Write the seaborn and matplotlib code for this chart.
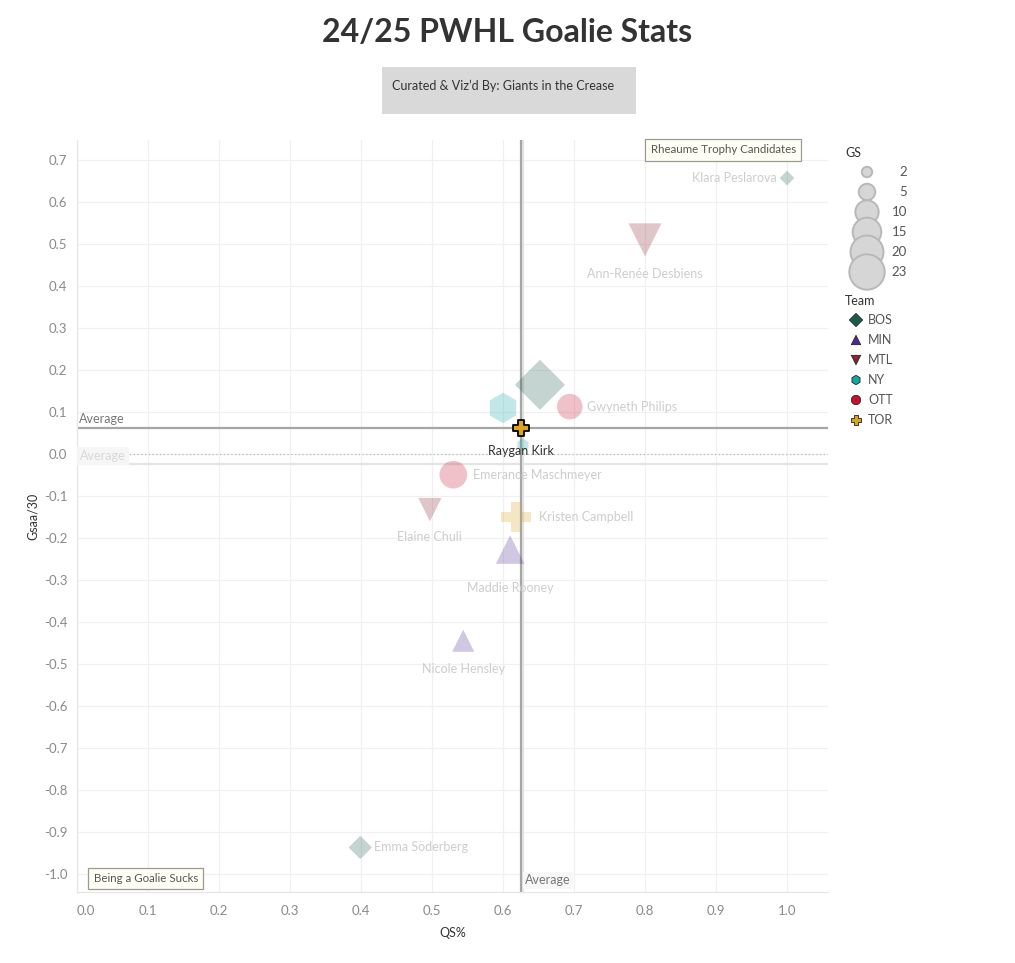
import matplotlib
matplotlib.use("Agg")
import matplotlib.pyplot as plt
from matplotlib.patches import Rectangle
import seaborn as sns
import pandas as pd

# values
players = ["Aerin Frankel", "Emma Söderberg", "Klara Peslarova", "Nicole Hensley",
           "Maddie Rooney", "Ann-Renée Desbiens", "Elaine Chuli", "Corinne Schroeder",
           "Abbey Levy", "Gwyneth Philips", "Emerance Maschmeyer", "Kristen Campbell",
           "Raygan Kirk"]
teams = ["BOS", "BOS", "BOS", "MIN", "MIN", "MTL", "MTL", "NY", "NY", "OTT", "OTT",
         "TOR", "TOR"]
qs_pct = [0.652, 0.399, 1.000, 0.544, 0.610, 0.800, 0.497, 0.600, 0.628, 0.694,
          0.530, 0.618, 0.625]
gsaa_30 = [0.165, -0.936, 0.657, -0.444, -0.227, 0.510, -0.132, 0.110, 0.022, 0.113,
           -0.049, -0.149, 0.063]
games_started = [23, 5, 2, 9, 15, 20, 10, 17, 3, 12, 14, 16, 5]

team_order = ["BOS", "MIN", "MTL", "NY", "OTT", "TOR"]
gs_levels = [2, 5, 10, 15, 20, 23]

avg_qs = 0.625
avg_gsaa = 0.063
avg_qs_faded = 0.628
avg_gsaa_faded = -0.023
highlight = "Raygan Kirk"

team_colors = {"BOS": "#1d5c4c", "MIN": "#4b2d8f", "MTL": "#8a2432",
               "NY": "#12a5a8", "OTT": "#c8102e", "TOR": "#d9a520"}
team_markers = {"BOS": "D", "MIN": "^", "MTL": "v", "NY": "h", "OTT": "o", "TOR": "P"}

# label placement: offset in pixels from the mark, and alignment
label_pos = {
    "Klara Peslarova": (-10, 0, "right"),
    "Ann-Renée Desbiens": (0, -34, "center"),
    "Gwyneth Philips": (17, 0, "left"),
    "Raygan Kirk": (0, -23, "center"),
    "Emerance Maschmeyer": (20, 0, "left"),
    "Elaine Chuli": (0, -27, "center"),
    "Kristen Campbell": (23, 0, "left"),
    "Maddie Rooney": (0, -38, "center"),
    "Nicole Hensley": (0, -28, "center"),
    "Emma Söderberg": (14, 0, "left"),
}

df = pd.DataFrame({"Player": players, "Team": teams, "QS%": qs_pct,
                   "Gsaa/30": gsaa_30, "GS": games_started})

W, H = 1015, 963
PX = 0.72  # points per pixel at dpi 100
size_range = (0, 650)   # area grows from zero, like the Tableau size legend
size_norm = (0, 23)

sns.set_theme(style="white")
plt.rcParams["font.family"] = ["Lato", "DejaVu Sans"]

fig = plt.figure(figsize=(W / 100, H / 100), dpi=100)
ax = fig.add_axes([77 / W, 71 / H, (828 - 77) / W, (892 - 140) / H])

# reference lines (faded set first, then the highlighted one)
ax.axhline(0, color="#bbbbbb", lw=0.9, ls=(0, (1, 2)), zorder=1)
ax.axhline(avg_gsaa_faded, color="#e4e4e4", lw=1.6, zorder=1)
ax.axvline(avg_qs_faded, color="#e4e4e4", lw=1.6, zorder=1)
ax.axhline(avg_gsaa, color="#a6a6a6", lw=1.6, zorder=2)
ax.axvline(avg_qs, color="#a6a6a6", lw=1.6, zorder=2)

faded = df[df["Player"] != highlight]
sns.scatterplot(data=faded, x="QS%", y="Gsaa/30", hue="Team", style="Team",
                size="GS", sizes=size_range, size_norm=size_norm,
                palette=team_colors, markers=team_markers, hue_order=team_order,
                alpha=0.26, linewidth=0, legend=False, ax=ax, zorder=3)
sel = df[df["Player"] == highlight]
sns.scatterplot(data=sel, x="QS%", y="Gsaa/30", hue="Team", style="Team",
                size="GS", sizes=size_range, size_norm=size_norm,
                palette=team_colors, markers=team_markers,
                alpha=1, edgecolor="black", linewidth=1.3, legend=False, ax=ax, zorder=5)

for _, row in df.iterrows():
    if row["Player"] not in label_pos:
        continue
    dx, dy, ha = label_pos[row["Player"]]
    is_hl = row["Player"] == highlight
    ax.annotate(row["Player"], (row["QS%"], row["Gsaa/30"]),
                xytext=(dx * PX, dy * PX), textcoords="offset points",
                ha=ha, va="center", fontsize=9,
                color="#333333" if is_hl else "#cdcdcd", zorder=6 if is_hl else 4)

# average labels
ax.annotate("Average", (0.003, avg_gsaa), xytext=(0, 2), textcoords="offset points",
            ha="left", va="bottom", fontsize=9, color="#777777", zorder=6)
ax.text(0.004, -0.004, "Average", ha="left", va="center", fontsize=9, color="#d8d8d8",
        bbox=dict(boxstyle="square,pad=0.25", fc="#f6f6f6", ec="none"), zorder=4)
ax.text(0.631, -1.0143, "Average", ha="left", va="center", fontsize=9, color="#777777",
        bbox=dict(boxstyle="square,pad=0.2", fc="#f7f7f7", ec="none"), zorder=6)

# annotation boxes
ax.text(0.91, 0.724, "Rheaume Trophy Candidates", ha="center", va="center",
        fontsize=8.3, color="#555555", clip_on=False, zorder=7,
        bbox=dict(boxstyle="square,pad=0.45", fc="#fffff6", ec="#9a9a90", lw=0.9))
ax.text(0.097, -1.0095, "Being a Goalie Sucks", ha="center", va="center",
        fontsize=8.3, color="#555555", clip_on=False, zorder=7,
        bbox=dict(boxstyle="square,pad=0.45", fc="#fffff6", ec="#9a9a90", lw=0.9))

ax.set_xlim(0, 1.0577)
ax.set_ylim(-1.042, 0.7476)
ax.set_xticks([i / 10 for i in range(11)])
ax.set_xticklabels([f"{i / 10:.1f}" for i in range(11)])
ax.set_yticks([i / 10 for i in range(-10, 8)])
ax.set_yticklabels([f"{i / 10:.1f}" for i in range(-10, 8)])
ax.tick_params(axis="both", labelsize=9.5, labelcolor="#8a8a8a", color="#dddddd",
               length=3, width=0.8)
ax.tick_params(axis="x", pad=6)
ax.tick_params(axis="y", pad=4)
ax.get_xticklabels()[0].set_ha("left")
ax.grid(True, color="#f0f0f0", lw=0.9)
ax.set_axisbelow(True)
for side in ["top", "right"]:
    ax.spines[side].set_visible(False)
for side in ["left", "bottom"]:
    ax.spines[side].set_color("#e6e6e6")
    ax.spines[side].set_linewidth(0.9)

ax.set_xlabel("QS%", fontsize=9, color="#333333")
ax.set_ylabel("Gsaa/30", fontsize=9, color="#333333")
ax.xaxis.set_label_coords(0.5, -(927 - 892) / 752)
ax.yaxis.set_label_coords((39 - 77) / 751, 0.5)

# title and credit box
fig.text(507 / W, 1 - 32 / H, "24/25 PWHL Goalie Stats", ha="center", va="center",
         fontsize=23, fontweight="bold", color="#333333")
fig.patches.append(Rectangle((382 / W, 1 - 114 / H), 254 / W, 47 / H,
                             transform=fig.transFigure, fc="#d9d9d9", ec="none"))
fig.text(392 / W, 1 - 86 / H, "Curated & Viz\u2019d By: Giants in the Crease",
         ha="left", va="center", fontsize=9, color="#333333")

# GS size legend
fig.text(845 / W, 1 - 153 / H, "GS", ha="left", va="center", fontsize=9,
         color="#333333")
lax = fig.add_axes([845 / W, 1 - 282 / H, 70 / W, 120 / H])
gs_df = pd.DataFrame({"x": [22] * len(gs_levels), "y": list(range(len(gs_levels))),
                      "GS": gs_levels})
sns.scatterplot(data=gs_df, x="x", y="y", size="GS", sizes=size_range,
                size_norm=size_norm, color="#d6d6d6", edgecolor="#b8b8b8",
                linewidth=1.4, legend=False, ax=lax, clip_on=False)
for i, v in enumerate(gs_levels):
    lax.text(62, i, str(v), ha="right", va="center", fontsize=9.5, color="#555555")
lax.set_xlim(0, 70)
lax.set_ylim(len(gs_levels) - 0.5, -0.5)
lax.axis("off")

# Team legend
fig.text(845 / W, 1 - 301 / H, "Team", ha="left", va="center", fontsize=9,
         color="#333333")
tax = fig.add_axes([845 / W, 1 - 430 / H, 70 / W, 120 / H])
team_df = pd.DataFrame({"x": [11] * len(team_order), "y": list(range(len(team_order))),
                        "Team": team_order})
sns.scatterplot(data=team_df, x="x", y="y", hue="Team", style="Team",
                palette=team_colors, markers=team_markers, s=45, linewidth=0.6,
                edgecolor="#222222", legend=False, ax=tax, clip_on=False)
for i, t in enumerate(team_order):
    tax.text(23, i, t, ha="left", va="center", fontsize=9, color="#555555")
tax.set_xlim(0, 70)
tax.set_ylim(len(team_order) - 0.5, -0.5)
tax.axis("off")

fig.savefig("out.png", dpi=100)
